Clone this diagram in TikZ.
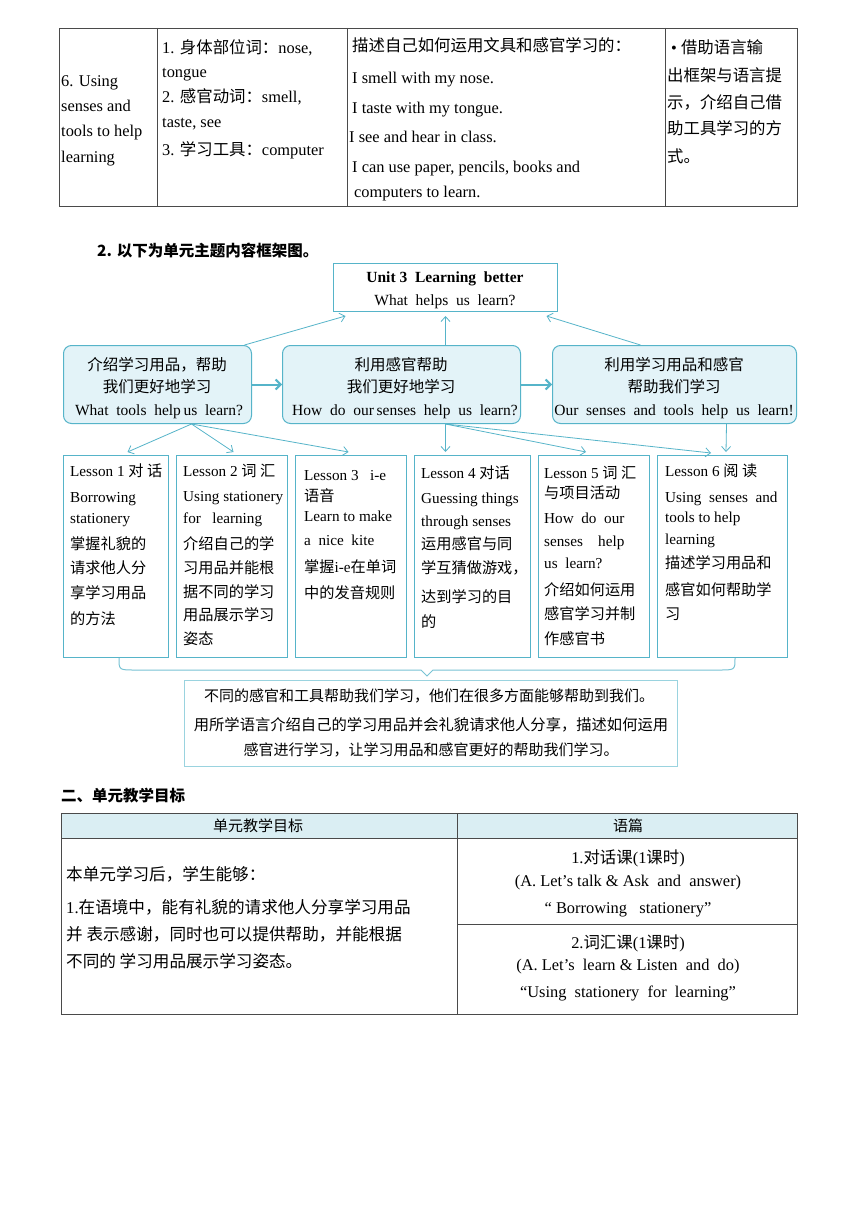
\documentclass[tikz,border=0pt]{standalone}
\usepackage{fontspec}
\setmainfont{Liberation Serif}
\newfontfamily\cjk{Noto Sans CJK SC}
\newcommand\zh[1]{{\cjk #1}}
\usetikzlibrary{arrows.meta}
\definecolor{teal1}{HTML}{56B4C9}
\definecolor{fillc}{HTML}{E3F3F8}
\definecolor{hdr}{HTML}{DAEEF3}
\definecolor{grid}{HTML}{4A4A4A}
\definecolor{lightteal}{HTML}{9AD3DF}
\begin{document}
\begin{tikzpicture}[x=1pt,y=-1pt,
  tt/.style={inner sep=0pt, anchor=base west, font=\fontsize{16.4}{18}\selectfont},
  ct/.style={inner sep=0pt, anchor=base, font=\fontsize{16.4}{18}\selectfont},
  lt/.style={inner sep=0pt, anchor=base west, font=\fontsize{15.2}{18}\selectfont},
  mt/.style={inner sep=0pt, anchor=base, font=\fontsize{15.5}{18}\selectfont},
  bt/.style={inner sep=0pt, anchor=base, font=\fontsize{15}{18}\selectfont},
  midbox/.style={draw=teal1, fill=fillc, rounded corners=8pt, line width=1pt, inner sep=0pt, anchor=north west},
  lbox/.style={draw=teal1, fill=white, line width=1pt, inner sep=0pt, anchor=north west},
  thinarrow/.style={draw=teal1, line width=0.8pt, -{Straight Barb[length=5pt,width=9pt]}},
  thickarrow/.style={draw=teal1, line width=2pt, -{Straight Barb[length=5pt,width=10pt]}},
  gridline/.style={draw=grid, line width=0.9pt},
  ]
\useasboundingbox[fill=white] (0,0) rectangle (860,1217);

% ---------- top table ----------
\draw[gridline] (59,28) rectangle (797,206);
\draw[gridline] (157,28) -- (157,206);
\draw[gridline] (347,28) -- (347,206);
\draw[gridline] (665,28) -- (665,206);

\node[tt] (a1) at (61,87) {6. Using};
\node[tt] (a2) at (61,112) {senses and};
\node[tt] (a3) at (61,137) {tools to help};
\node[tt] (a4) at (61,163) {learning};

\node[tt] (b1) at (162,54) {1. \zh{身体部位词：}nose,};
\node[tt] (b2) at (162,78) {tongue};
\node[tt] (b3) at (162,103) {2. \zh{感官动词：}smell,};
\node[tt] (b4) at (162,128) {taste, see};
\node[tt] (b5) at (162,156) {3. \zh{学习工具：}computer};

\node[tt] (c1) at (352,52) {\zh{描述自己如何运用文具和感官学习的：}};
\node[tt] (c2) at (352,84) {I smell with my nose.};
\node[tt] (c3) at (352,114) {I taste with my tongue.};
\node[tt] (c4) at (349,143) {I see and hear in class.};
\node[tt] (c5) at (352,173) {I can use paper, pencils, books and};
\node[tt] (c6) at (354,197) {computers to learn.};

\node[tt] (d1) at (671,54) {\textbullet\ \zh{借助语言输}};
\node[tt] (d2) at (667,82) {\zh{出框架与语言提}};
\node[tt] (d3) at (667,109) {\zh{示，介绍自己借}};
\node[tt] (d4) at (667,135) {\zh{助工具学习的方}};
\node[tt] (d5) at (667,163) {\zh{式。}};

% ---------- heading ----------
\node[inner sep=0pt, anchor=base west, font=\fontsize{15.5}{18}\selectfont\cjk\bfseries] (h1) at (97,256) {2. 以下为单元主题内容框架图。};

% ---------- framework diagram ----------
\node[draw=teal1, line width=1pt, fill=white, inner sep=0pt, anchor=north west, minimum width=224pt, minimum height=48pt] (T) at (333,263) {};
\node[ct, font=\fontsize{15.5}{18}\selectfont\bfseries] (T1) at (445,282) {Unit 3\ \ Learning\ \ better};
\node[mt] (T2) at (445,305) {What\ \ helps\ \ us\ \ learn?};

\node[midbox, minimum width=188pt, minimum height=78pt] (A) at (63,345) {};
\node[midbox, minimum width=238pt, minimum height=78pt] (B) at (282,345) {};
\node[midbox, minimum width=244pt, minimum height=78pt] (C) at (552,345) {};

\node[mt] (A1) at (157,370) {\zh{介绍学习用品，帮助}};
\node[mt] (A2) at (157,392) {\zh{我们更好地学习}};
\node[mt] (A3) at (159,415) {What\ \ tools\ \ help\,us\ \ learn?};
\node[mt] (B1) at (401,370) {\zh{利用感官帮助}};
\node[mt] (B2) at (401,392) {\zh{我们更好地学习}};
\node[mt] (B3) at (405,415) {How\ \ do\ \ our\,senses\ \ help\ \ us\ \ learn?};
\node[mt] (C1) at (674,370) {\zh{利用学习用品和感官}};
\node[mt] (C2) at (674,392) {\zh{帮助我们学习}};
\node[mt] (C3) at (674,415) {Our\ \ senses\ \ and\ \ tools\ \ help\ \ us\ \ learn!};

\draw[thickarrow] (A.east) -- (B.west);
\draw[thickarrow] (B.east) -- (C.west);

\draw[thinarrow] ([xshift=87pt]A.north) -- ([xshift=-100pt,yshift=-4pt]T.south);
\draw[thinarrow] ([xshift=44pt]B.north) -- ([yshift=-4pt]T.south);
\draw[thinarrow] ([xshift=-34pt]C.north) -- ([xshift=101pt,yshift=-4pt]T.south);

% lesson boxes
\node[lbox, minimum width=105pt, minimum height=202pt] (L1) at (63,455) {};
\node[lbox, minimum width=111pt, minimum height=202pt] (L2) at (176,455) {};
\node[lbox, minimum width=111pt, minimum height=202pt] (L3) at (295,455) {};
\node[lbox, minimum width=116pt, minimum height=202pt] (L4) at (414,455) {};
\node[lbox, minimum width=111pt, minimum height=202pt] (L5) at (538,455) {};
\node[lbox, minimum width=130pt, minimum height=202pt] (L6) at (657,455) {};

\draw[thinarrow] ([xshift=34pt]A.south) -- ([xshift=11.5pt,yshift=3pt]L1.north);
\draw[thinarrow] ([xshift=34pt]A.south) -- ([xshift=1.5pt,yshift=3pt]L2.north);
\draw[thinarrow] ([xshift=34pt]A.south) -- ([xshift=-2.5pt,yshift=3pt]L3.north);
\draw[thinarrow] ([xshift=44pt]B.south) -- ([xshift=-27pt,yshift=3pt]L4.north);
\draw[thinarrow] ([xshift=44pt]B.south) -- ([xshift=-8pt,yshift=3pt]L5.north);
\draw[thinarrow] ([xshift=44pt]B.south) -- ([xshift=-11.5pt,yshift=2pt]L6.north);
\draw[thinarrow] ([xshift=52pt]C.south) -- ([xshift=3.5pt,yshift=3pt]L6.north);

% lesson texts
\node[lt] (l11) at (70,476) {Lesson 1 \zh{对 话}};
\node[lt] (l12) at (70,502) {Borrowing};
\node[lt] (l13) at (70,523) {stationery};
\node[lt] (l14) at (70,549) {\zh{掌握礼貌的}};
\node[lt] (l15) at (70,573) {\zh{请求他人分}};
\node[lt] (l16) at (70,598) {\zh{享学习用品}};
\node[lt] (l17) at (70,624) {\zh{的方法}};

\node[lt] (l21) at (183,476) {Lesson 2 \zh{词 汇}};
\node[lt] (l22) at (183,501) {Using stationery};
\node[lt] (l23) at (183,523) {for\ \ \ learning};
\node[lt] (l24) at (183,549) {\zh{介绍自己的学}};
\node[lt] (l25) at (183,573) {\zh{习用品并能根}};
\node[lt] (l26) at (183,597) {\zh{据不同的学习}};
\node[lt] (l27) at (183,620) {\zh{用品展示学习}};
\node[lt] (l28) at (183,644) {\zh{姿态}};

\node[lt] (l31) at (304,480) {Lesson 3\ \ \ i-e};
\node[lt] (l32) at (304,501) {\zh{语音}};
\node[lt] (l33) at (304,521) {Learn to make};
\node[lt] (l34) at (304,545) {a\ \ nice\ \ kite};
\node[lt] (l35) at (304,572) {\zh{掌握}i-e\zh{在单词}};
\node[lt] (l36) at (304,598) {\zh{中的发音规则}};

\node[lt] (l41) at (421,478) {Lesson 4 \zh{对话}};
\node[lt] (l42) at (421,503) {Guessing things};
\node[lt] (l43) at (421,526) {through senses};
\node[lt] (l44) at (421,549) {\zh{运用感官与同}};
\node[lt] (l45) at (421,573) {\zh{学互猜做游戏，}};
\node[lt] (l46) at (421,602) {\zh{达到学习的目}};
\node[lt] (l47) at (421,627) {\zh{的}};

\node[lt] (l51) at (544,478) {Lesson 5 \zh{词 汇}};
\node[lt] (l52) at (544,498) {\zh{与项目活动}};
\node[lt] (l53) at (544,523) {How\ \ do\ \ our};
\node[lt] (l54) at (544,546) {senses\ \ \ \ help};
\node[lt] (l55) at (544,568) {us\ \ learn?};
\node[lt] (l56) at (544,595) {\zh{介绍如何运用}};
\node[lt] (l57) at (544,619) {\zh{感官学习并制}};
\node[lt] (l58) at (544,644) {\zh{作感官书}};

\node[lt] (l61) at (665,476) {Lesson 6 \zh{阅 读}};
\node[lt] (l62) at (665,502) {Using\ \ senses\ \ and};
\node[lt] (l63) at (665,522) {tools\ to\ help};
\node[lt] (l64) at (665,544) {learning};
\node[lt] (l65) at (665,568) {\zh{描述学习用品和}};
\node[lt] (l66) at (665,595) {\zh{感官如何帮助学}};
\node[lt] (l67) at (665,619) {\zh{习}};

% brace
\draw[teal1!80, line width=1pt] (119,658) .. controls (119,670) and (119,670) .. (135,670) -- (421,670) -- (427,676) -- (433,670) -- (719,670) .. controls (735,670) and (735,670) .. (735,658);

% summary box
\node[draw=lightteal, line width=1.3pt, fill=white, inner sep=0pt, anchor=north west, minimum width=493pt, minimum height=86pt] (S) at (184,680) {};
\node[bt] (s1) at (429,701) {\zh{不同的感官和工具帮助我们学习，他们在很多方面能够帮助到我们。}};
\node[bt, font=\fontsize{15.3}{18}\selectfont] (s2) at (431,730) {\zh{用所学语言介绍自己的学习用品并会礼貌请求他人分享，描述如何运用}};
\node[bt] (s3) at (431,755) {\zh{感官进行学习，让学习用品和感官更好的帮助我们学习。}};

% ---------- section 2 ----------
\node[inner sep=0pt, anchor=base west, font=\fontsize{15.5}{18}\selectfont\cjk\bfseries] (h2) at (61,801) {二、单元教学目标};

\fill[hdr] (61,813) rectangle (797,838);
\draw[gridline] (61,813) rectangle (797,1014);
\draw[gridline] (61,838) -- (797,838);
\draw[gridline] (457,813) -- (457,1014);
\draw[gridline] (457,924) -- (797,924);

\node[ct, font=\fontsize{15}{18}\selectfont] (g1) at (258,831) {\zh{单元教学目标}};
\node[ct, font=\fontsize{15}{18}\selectfont] (g2) at (628,831) {\zh{语篇}};

\node[tt, font=\fontsize{16.6}{18}\selectfont] (e1) at (66,880) {\zh{本单元学习后，学生能够：}};
\node[tt, font=\fontsize{16.6}{18}\selectfont] (e2) at (66,913) {1.\zh{在语境中，能有礼貌的请求他人分享学习用品}};
\node[tt, font=\fontsize{16.6}{18}\selectfont] (e3) at (66,940) {\zh{并 表示感谢，同时也可以提供帮助，并能根据}};
\node[tt, font=\fontsize{16.6}{18}\selectfont] (e4) at (66,967) {\zh{不同的 学习用品展示学习姿态。}};

\node[ct] (f1) at (628,863) {1.\zh{对话课}(1\zh{课时})};
\node[ct] (f2) at (628,886) {(A. Let's\ talk \& Ask\ \ and\ \ answer)};
\node[ct] (f3) at (628,913) {“ Borrowing\ \ \ stationery”};
\node[ct] (f4) at (628,948) {2.\zh{词汇课}(1\zh{课时})};
\node[ct] (f5) at (628,970) {(A. Let's\ \ learn \& Listen\ \ and\ \ do)};
\node[ct] (f6) at (628,997) {“Using\ \ stationery\ \ for\ \ learning”};

\end{tikzpicture}
\end{document}
